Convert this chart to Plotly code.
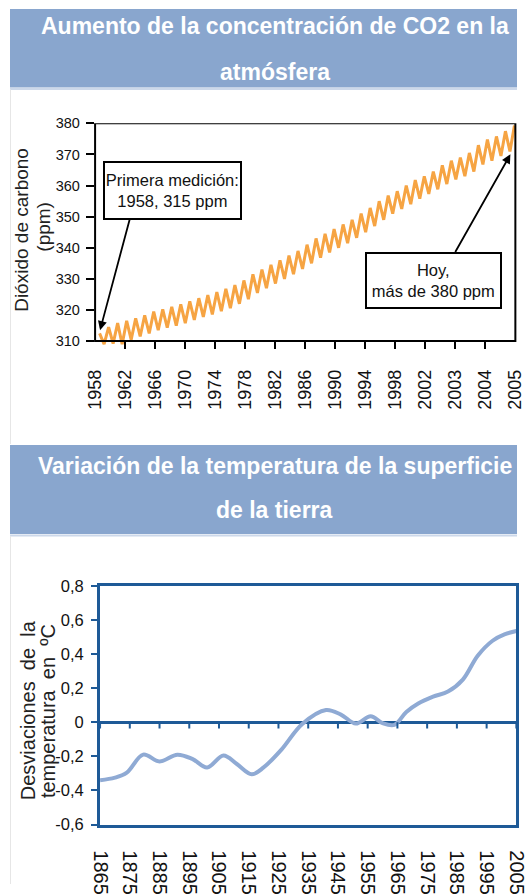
import plotly.graph_objects as go

W, H = 529, 895
# the photographed page shows the figure with ~9.7px of white round it, rescaled
# to 529x895; positions below are given in photographed pixels and converted.
PAD = 9.7
SX = W / (W + 2 * PAD)
SY = H / (H + 2 * PAD)

# ---------------- Chart 1 data: CO2 (ppm) ----------------
co2_title_lines = ["Aumento de la concentración de CO2 en la", "atmósfera"]
co2_tick_labels = ["1958", "1962", "1966", "1970", "1974", "1978", "1982", "1986",
                   "1990", "1994", "1998", "2002", "2003", "2004", "2005"]
co2_yticks = [310, 320, 330, 340, 350, 360, 370, 380]
# seasonal maxima (mid-year) and minima (year start)
co2_peak_years = [1958.5 + i for i in range(47)]
co2_peaks = [312.5, 314.5, 315.8, 316.5, 317.3, 318.3, 319.5, 320.2, 321.0, 321.8,
             322.8, 323.8, 324.8, 325.8, 326.8, 328.0, 329.5, 331.5, 333.0, 334.5,
             336.0, 337.5, 339.0, 341.0, 343.0, 344.5, 346.0, 347.5, 349.0, 351.0,
             352.8, 355.0, 356.8, 358.2, 360.0, 361.8, 363.0, 364.5, 366.5, 368.0,
             369.0, 370.5, 373.0, 374.8, 375.8, 377.5, 379.3]
co2_trough_years = [1959.0 + i for i in range(46)]
co2_troughs = [309.0, 309.2, 309.0, 310.5, 311.5, 312.5, 313.5, 314.3, 315.0, 315.8,
               316.8, 317.8, 318.6, 319.6, 320.6, 322.0, 323.5, 325.5, 327.0, 328.5,
               330.0, 331.5, 333.2, 335.0, 336.8, 338.5, 340.0, 341.5, 343.2, 345.0,
               347.0, 349.0, 351.0, 352.5, 354.0, 355.8, 357.3, 358.8, 360.5, 362.0,
               363.0, 364.5, 366.8, 368.0, 369.5, 371.0]

# ---------------- Chart 2 data: temperature deviation (ºC) ----------------
temp_title_lines = ["Variación de la temperatura de la superficie", "de la tierra"]
temp_years = [1865, 1870, 1874, 1879.5, 1885, 1891, 1896, 1901, 1906.5, 1911, 1916,
              1920, 1926, 1933, 1941, 1946, 1951, 1956, 1960, 1964, 1968, 1972,
              1977, 1982, 1987, 1992, 1997, 2001, 2005]
temp_values = [-0.34, -0.325, -0.295, -0.19, -0.23, -0.19, -0.215, -0.265, -0.195,
               -0.245, -0.305, -0.265, -0.16, -0.01, 0.072, 0.045, -0.008, 0.035,
               -0.005, -0.015, 0.06, 0.11, 0.15, 0.18, 0.25, 0.39, 0.478, 0.515, 0.535]
temp_xticks = [1865, 1875, 1885, 1895, 1905, 1915, 1925, 1935, 1945, 1955, 1965,
               1975, 1985, 1995, 2005]
temp_yticks = [-0.6, -0.4, -0.2, 0, 0.2, 0.4, 0.6, 0.8]
temp_ytick_text = ["-0,6", "-0,4", "-0,2", "0", "0,2", "0,4", "0,6", "0,8"]

# ---------------- styling ----------------
BAND = "#89A6CE"
ORANGE = "#F6A443"
TBLUE = "#8FAAD4"
DBLUE = "#1E5A97"
REG = "Liberation Sans, Arial, sans-serif"


def fx(r):
    """photographed x pixel -> paper fraction"""
    return (r / SX - PAD) / W


def fy(r):
    """photographed y pixel -> paper fraction"""
    return 1 - (r / SY - PAD) / H


def lx(d):
    """horizontal photographed length -> figure pixels"""
    return d / SX


def ly(d):
    """vertical photographed length -> figure pixels"""
    return d / SY


co2_x, co2_y = [], []
for i in range(len(co2_peaks)):
    co2_x.append(co2_peak_years[i]); co2_y.append(co2_peaks[i])
    if i < len(co2_troughs):
        co2_x.append(co2_trough_years[i]); co2_y.append(co2_troughs[i])

X1 = [1958.0, 2004.6]
tick_step = (X1[1] - X1[0]) / (len(co2_tick_labels) - 1)
co2_tickvals = [round(X1[0] + i * tick_step, 6) for i in range(len(co2_tick_labels))]
# y-range reaches a little below 310: baseline at 310, x ticks hang beneath it
Y1 = [307.43, 380]

fig = go.Figure()
fig.add_trace(go.Scatter(x=co2_x, y=co2_y, mode="lines", xaxis="x", yaxis="y",
                         line=dict(color=ORANGE, width=3), hoverinfo="skip",
                         showlegend=False))
fig.add_trace(go.Scatter(x=temp_years, y=temp_values, mode="lines", xaxis="x2",
                         yaxis="y2", line=dict(color=TBLUE, width=4, shape="spline",
                                               smoothing=1.0),
                         hoverinfo="skip", showlegend=False))

shapes = []
for top, bot in [(9, 88), (446, 535)]:
    shapes.append(dict(type="rect", xref="paper", yref="paper", x0=0, x1=1,
                       y0=fy(bot), y1=min(1, fy(top)), fillcolor=BAND,
                       line=dict(width=0), layer="below"))
    shapes.append(dict(type="line", xref="paper", yref="paper", x0=0, x1=1,
                       y0=fy(bot + 1.5), y1=fy(bot + 1.5),
                       line=dict(color="#CCD8EA", width=2)))
for top, bot in [(90, 445), (537, 895)]:
    shapes.append(dict(type="line", xref="paper", yref="paper", x0=0.001, x1=0.001,
                       y0=max(0, fy(bot)), y1=fy(top),
                       line=dict(color="#E6E6E6", width=1)))
# chart 1 frame
shapes.append(dict(type="rect", xref="x domain", yref="y", x0=0, x1=1, y0=310, y1=380,
                   line=dict(color="black", width=2), layer="above"))
# chart 2: ticks hanging from the zero line
for yr in temp_xticks:
    shapes.append(dict(type="line", xref="x2", yref="y2", x0=yr, x1=yr,
                       ysizemode="pixel", yanchor=0, y0=0, y1=-ly(6),
                       line=dict(color=DBLUE, width=2)))

annotations = []
for txt, ypx in [(co2_title_lines[0], 27), (co2_title_lines[1], 72.5),
                 (temp_title_lines[0], 467), (temp_title_lines[1], 511)]:
    annotations.append(dict(text="<b>" + txt + "</b>", xref="paper", yref="paper",
                            x=fx(276), y=fy(ypx), showarrow=False, xanchor="center",
                            yanchor="middle",
                            font=dict(family=REG, size=23, color="white")))
annotations += [
    # axis titles chart 1
    dict(text="Dióxido de carbono", xref="paper", yref="paper", x=fx(21), y=fy(231),
         xanchor="center", yanchor="middle", textangle=-90, showarrow=False,
         font=dict(family=REG, size=19, color="#222")),
    dict(text="(ppm)", xref="paper", yref="paper", x=fx(43), y=fy(227),
         xanchor="center", yanchor="middle", textangle=-90, showarrow=False,
         font=dict(family=REG, size=19, color="#222")),
    # axis titles chart 2
    dict(text="Desviaciones  de  la", xref="paper", yref="paper", x=fx(27), y=fy(712),
         xanchor="center", yanchor="middle", textangle=-90, showarrow=False,
         font=dict(family=REG, size=20, color="#222")),
    dict(text="temperatura  en  ºC", xref="paper", yref="paper", x=fx(47), y=fy(712),
         xanchor="center", yanchor="middle", textangle=-90, showarrow=False,
         font=dict(family=REG, size=20, color="#222")),
    # callout boxes
    dict(text="Primera medición:<br>1958, 315 ppm", xref="paper", yref="paper",
         x=fx(173), y=fy(191), showarrow=False, xanchor="center", yanchor="middle",
         width=lx(128), height=ly(52), bgcolor="white", bordercolor="black",
         borderwidth=2, borderpad=1, font=dict(family=REG, size=16.5, color="#111")),
    dict(text="Hoy,<br>más de 380 ppm", xref="paper", yref="paper",
         x=fx(436), y=fy(281), showarrow=False, xanchor="center", yanchor="middle",
         width=lx(126), height=ly(50), bgcolor="white", bordercolor="black",
         borderwidth=2, borderpad=1, font=dict(family=REG, size=16.5, color="#111")),
    # arrows
    dict(text="", xref="paper", yref="paper", x=fx(100), y=fy(331), axref="pixel",
         ayref="pixel", ax=lx(29), ay=-ly(110), showarrow=True, arrowhead=2,
         arrowsize=1, arrowwidth=1.8, arrowcolor="black", standoff=0,
         startstandoff=0),
    dict(text="", xref="paper", yref="paper", x=fx(513), y=fy(155), axref="pixel",
         ayref="pixel", ax=-lx(54), ay=ly(97), showarrow=True, arrowhead=2,
         arrowsize=1, arrowwidth=1.8, arrowcolor="black", standoff=0,
         startstandoff=0),
]

fig.update_layout(
    width=W, height=H, margin=dict(l=0, r=0, t=0, b=0),
    paper_bgcolor="white", plot_bgcolor="white", showlegend=False,
    shapes=shapes, annotations=annotations,
    xaxis=dict(domain=[fx(95), fx(518)], range=[X1[0] - 1e-4, X1[1] + 1e-4],
               anchor="y", tickvals=co2_tickvals, ticktext=co2_tick_labels,
               tickangle=-90, ticks="inside", ticklen=ly(8), tickwidth=2,
               tickcolor="black", showline=False, showgrid=False, zeroline=False,
               ticklabelstandoff=16, ticklabeloverflow="allow",
               tickfont=dict(family=REG, size=18, color="#111")),
    yaxis=dict(domain=[fy(350), fy(124)], range=Y1, anchor="x",
               tickvals=co2_yticks, ticks="outside", ticklen=lx(8), tickwidth=2,
               tickcolor="black", showline=False, showgrid=False, zeroline=False,
               ticklabelstandoff=3,
               tickfont=dict(family=REG, size=14.5, color="#111")),
    xaxis2=dict(domain=[fx(100), fx(519)], range=[1865, 2005], anchor="y2",
                tickvals=temp_xticks, tickangle=90, ticks="",
                showline=True, mirror=True, linecolor=DBLUE, linewidth=2.5,
                showgrid=False, zeroline=False, ticklabelstandoff=19,
                ticklabeloverflow="allow",
                tickfont=dict(family=REG, size=20, color="#111")),
    yaxis2=dict(domain=[fy(826), fy(587)], range=[-0.6, 0.8], anchor="x2",
                tickvals=temp_yticks, ticktext=temp_ytick_text, ticks="outside",
                ticklen=lx(6), tickwidth=2, tickcolor=DBLUE, showline=True,
                mirror=True, linecolor=DBLUE, linewidth=2.5, showgrid=False,
                zeroline=True, zerolinecolor=DBLUE, zerolinewidth=2.5,
                ticklabelstandoff=4,
                tickfont=dict(family=REG, size=16.5, color="#111")),
)

pin_to_corner = (
    "var h=document.documentElement.style;h.margin='0';h.padding='0';h.overflow='hidden';"
    "var b=document.body.style;b.margin='0';b.padding='0';b.overflow='hidden';"
    "var g=document.getElementsByClassName('plotly-graph-div')[0].style;"
    "g.position='fixed';g.left='0px';g.top='0px';"
)
fig.write_html("out.html", config={"displayModeBar": False}, post_script=pin_to_corner)
